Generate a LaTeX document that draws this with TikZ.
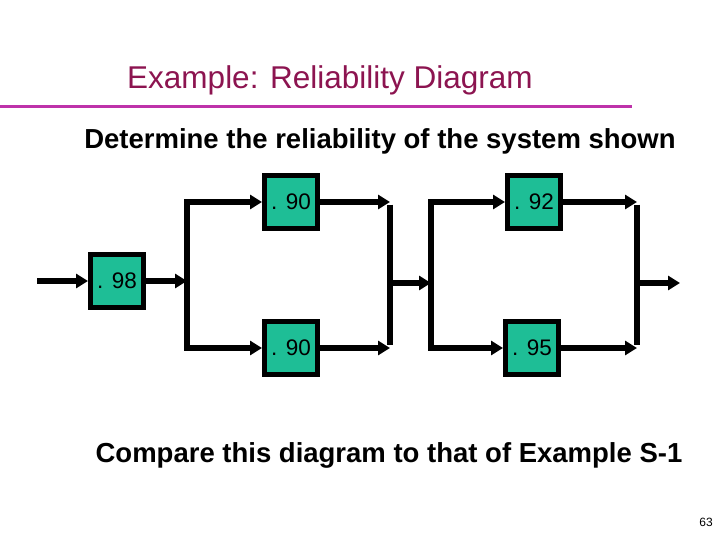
\documentclass[tikz,border=0pt]{standalone}
\usepackage{fontspec}
\setmainfont{Liberation Sans}
\usetikzlibrary{arrows.meta}
\definecolor{teal1}{RGB}{30,190,150}
\definecolor{purp}{RGB}{190,50,170}
\definecolor{titlec}{RGB}{140,20,80}
\begin{document}
\begin{tikzpicture}[x=1pt,y=-1pt,
  blk/.style={draw=black,line width=5pt,fill=teal1,minimum width=53pt,minimum height=53pt,inner sep=0pt,font=\fontsize{22.5}{24}\selectfont},
  wire/.style={line width=5.5pt},
  arr/.style={wire,-{Triangle[length=12pt,width=14pt]}}]
\useasboundingbox (0,0) rectangle (720,540);
\node[font=\fontsize{31.5}{34}\selectfont,text=titlec] (t) at (330,80) {Example: Reliability Diagram};
\draw[purp,line width=3pt] (0,107) -- (632,107);
\node[font=\bfseries\fontsize{27.5}{30}\selectfont] (s) at (380,141) {Determine the reliability of the system shown};
\node[font=\bfseries\fontsize{27.5}{30}\selectfont] (c) at (389,455) {Compare this diagram to that of Example S-1};
\node[font=\rmfamily\fontsize{12}{14}\selectfont] (p) at (706,522) {63};
\node[blk] (a) at (117,281) {. 98};
\node[blk] (b1) at (291,202) {. 90};
\node[blk] (b2) at (291,348) {. 90};
\node[blk] (d1) at (534,202) {. 92};
\node[blk] (d2) at (532,348) {. 95};
\coordinate (in) at (37,281);
\coordinate (j1) at (187,281);
\coordinate (j1t) at (187,202);
\coordinate (j1b) at (187,348);
\coordinate (k1t) at (390,202);
\coordinate (k1b) at (390,348);
\coordinate (k1) at (390,283);
\coordinate (j2) at (431,283);
\coordinate (j2t) at (431,202);
\coordinate (j2b) at (431,348);
\coordinate (k2t) at (637,202);
\coordinate (k2b) at (637,348);
\coordinate (k2) at (637,283);
\coordinate (out) at (680,283);
\draw[arr] (in) -- (a.west);
\draw[arr] (a.east) -- (j1);
\draw[wire] ([yshift=-2.75pt]j1t) -- ([yshift=2.75pt]j1b);
\draw[arr] ([xshift=-2.75pt]j1t) -- (b1.west);
\draw[arr] ([xshift=-2.75pt]j1b) -- (b2.west);
\draw[arr] (b1.east) -- (k1t);
\draw[arr] (b2.east) -- (k1b);
\draw[wire] ([yshift=-2.75pt]k1t) -- ([yshift=2.75pt]k1b);
\draw[arr] (k1) -- (j2);
\draw[wire] ([yshift=-2.75pt]j2t) -- ([yshift=2.75pt]j2b);
\draw[arr] ([xshift=-2.75pt]j2t) -- (d1.west);
\draw[arr] ([xshift=-2.75pt]j2b) -- (d2.west);
\draw[arr] (d1.east) -- (k2t);
\draw[arr] (d2.east) -- (k2b);
\draw[wire] ([yshift=-2.75pt]k2t) -- ([yshift=2.75pt]k2b);
\draw[arr] (k2) -- (out);
\end{tikzpicture}
\end{document}
